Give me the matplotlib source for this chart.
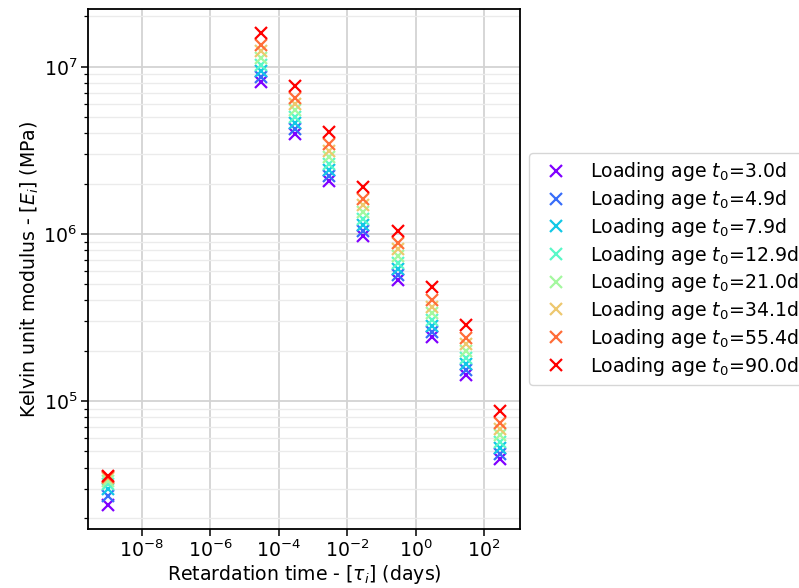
import numpy as np
import matplotlib
matplotlib.use("Agg")
import matplotlib.pyplot as plt
from matplotlib.ticker import NullLocator

# retardation times (days)
tau = [1e-9, 3e-5, 3e-4, 3e-3, 3e-2, 3e-1, 3e0, 3e1, 3e2]

# loading ages (days)
t0 = [3.0, 4.9, 7.9, 12.9, 21.0, 34.1, 55.4, 90.0]

# Kelvin unit moduli (MPa), one list per loading age
E_t3_0 = [2.38e4, 8.13e6, 3.95e6, 2.07e6, 9.75e5, 5.33e5, 2.42e5, 1.44e5, 4.49e4]
E_t4_9 = [2.70e4, 8.70e6, 4.23e6, 2.21e6, 1.04e6, 5.70e5, 2.59e5, 1.54e5, 4.80e4]
E_t7_9 = [3.00e4, 9.43e6, 4.58e6, 2.40e6, 1.13e6, 6.18e5, 2.81e5, 1.67e5, 5.21e4]
E_t12_9 = [3.20e4, 1.03e7, 5.00e6, 2.62e6, 1.23e6, 6.74e5, 3.06e5, 1.82e5, 5.68e4]
E_t21_0 = [3.35e4, 1.13e7, 5.49e6, 2.88e6, 1.36e6, 7.41e5, 3.36e5, 2.00e5, 6.24e4]
E_t34_1 = [3.45e4, 1.24e7, 6.00e6, 3.15e6, 1.48e6, 8.10e5, 3.68e5, 2.19e5, 6.82e4]
E_t55_4 = [3.50e4, 1.35e7, 6.54e6, 3.43e6, 1.61e6, 8.82e5, 4.01e5, 2.38e5, 7.43e4]
E_t90_0 = [3.55e4, 1.60e7, 7.67e6, 4.05e6, 1.91e6, 1.04e6, 4.80e5, 2.85e5, 8.70e4]

E_all = [E_t3_0, E_t4_9, E_t7_9, E_t12_9, E_t21_0, E_t34_1, E_t55_4, E_t90_0]

# x tick positions shown (every second decade)
x_ticks = [1e-8, 1e-6, 1e-4, 1e-2, 1e0, 1e2]

fs = 13.6  # the reference looks like 10pt text saved at ~136 dpi

fig = plt.figure(figsize=(7.99, 5.88), dpi=100)
ax = fig.add_axes([88 / 799, 1 - 529 / 588, 432 / 799, 520 / 588])

colors = plt.cm.rainbow(np.linspace(0, 1, len(t0)))
for age, E, c in zip(t0, E_all, colors):
    ax.plot(tau, E, "x", color=c, markersize=8.5, markeredgewidth=1.6,
            label="Loading age $t_0$=%.1fd" % age)

ax.set_xscale("log")
ax.set_yscale("log")
ax.set_xticks(x_ticks)
ax.xaxis.set_minor_locator(NullLocator())

ax.grid(True, which="major", color="#d3d3d3", linewidth=1.3)
ax.grid(True, which="minor", axis="y", color="#ebebeb", linewidth=1.0)
ax.set_axisbelow(True)

for s in ax.spines.values():
    s.set_linewidth(1.3)
ax.tick_params(which="major", length=4.8, width=1.1, pad=3, labelsize=fs)
ax.tick_params(which="minor", length=2.7, width=0.9)

ax.set_xlabel(r"Retardation time - [$\tau_i$] (days)", fontsize=fs, labelpad=1)
ax.set_ylabel(r"Kelvin unit modulus - [$E_i$] (MPa)", fontsize=fs, labelpad=2)

ax.legend(loc="center left", bbox_to_anchor=(1.0, 0.5), fontsize=fs,
          labelspacing=0.25)

fig.savefig("out.png", dpi=100)
